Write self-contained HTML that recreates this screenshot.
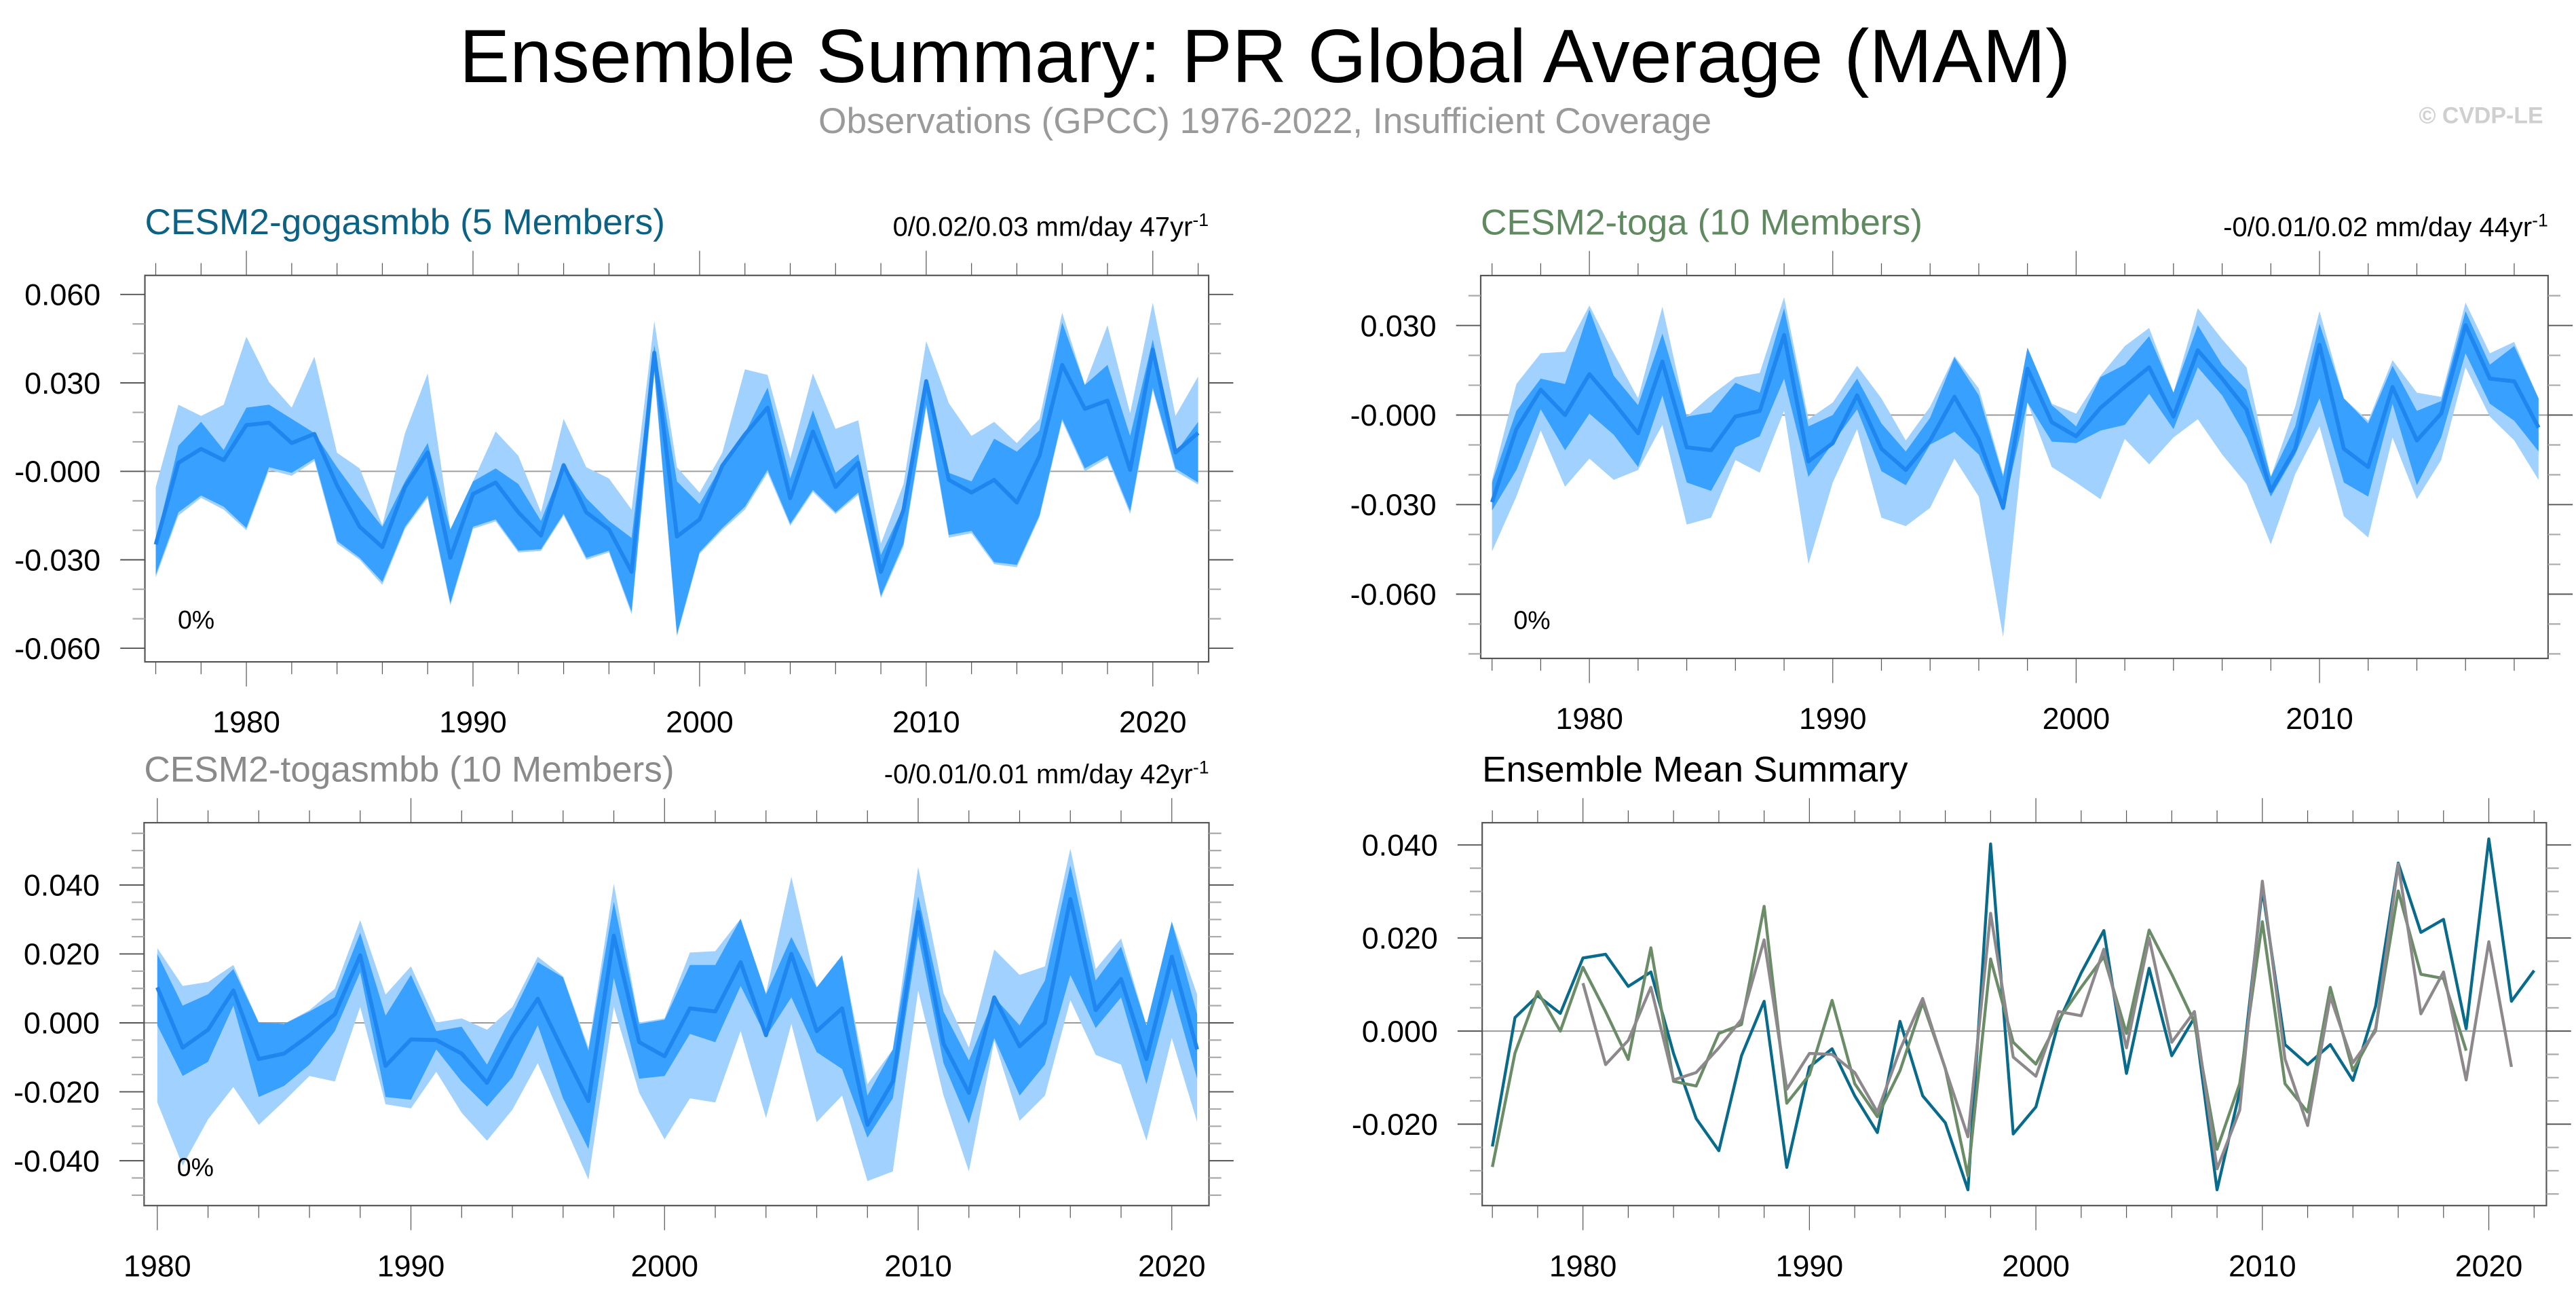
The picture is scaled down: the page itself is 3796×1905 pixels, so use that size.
<!DOCTYPE html>
<html><head><meta charset="utf-8"><style>
html,body{margin:0;padding:0;background:#fff;}
svg{display:block;font-family:"Liberation Sans",Arial,sans-serif;}
</style></head><body>
<svg id="chart" xmlns="http://www.w3.org/2000/svg" width="3796" height="1905" viewBox="0 0 1568 786.9" preserveAspectRatio="none">
<rect x="0" y="0" width="1568" height="786.9" fill="#fff"/>
<text x="770" y="50" font-size="46" text-anchor="middle" fill="#000">Ensemble Summary: PR Global Average (MAM)</text>
<text x="770" y="81" font-size="22" text-anchor="middle" fill="#9a9a9a">Observations (GPCC) 1976-2022, Insufficient Coverage</text>
<text x="1548" y="75" font-size="14" font-weight="bold" text-anchor="end" fill="#cfcfcf">© CVDP-LE</text>
<g id="plots"></g>
</svg>
<script>
// ---- data (values in units of 0.001 mm/day) ----
const years1 = [];
for (let y = 1976; y <= 2022; y++) years1.push(y);
const mean1 = [-24.8,2.9,7.6,3.8,15.7,16.5,9.6,12.7,-4.8,-18.8,-25.7,-5.3,6.4,-29.3,-7.7,-3.8,-13.9,-21.8,2.1,-13.9,-19.7,-34.1,40.2,-22.1,-16.3,1.9,12.5,21.6,-9.1,13.5,-5.3,2.9,-34.1,-13.0,30.6,-2.9,-7.2,-2.9,-10.6,5.3,36.1,21.2,24.0,0.5,41.3,6.4,13.0];
const darkUp1 = [-23.6,8.7,16.8,7.2,21.6,22.6,17.8,13.0,1.4,-9.1,-18.8,-3.4,9.6,-19.7,-3.4,1.0,-4.3,-16.8,2.4,-9.1,-16.8,-22.6,42.8,-3.4,-11.1,2.4,13.0,28.4,-2.4,20.7,-0.5,5.8,-28.4,-12.0,31.3,-0.5,-3.4,11.1,6.7,13.9,50.5,29.3,36.1,12.0,44.7,6.3,16.8];
const darkLo1 = [-35.1,-13.9,-8.2,-12.0,-19.2,1.4,-0.5,4.3,-23.6,-29.3,-37.5,-18.8,-8.2,-44.7,-18.8,-16.3,-26.9,-26.4,-14.4,-29.3,-26.9,-47.6,34.1,-55.3,-27.4,-19.2,-12.0,0.5,-17.8,-6.3,-13.9,-7.2,-42.3,-24.5,22.6,-21.6,-20.2,-30.8,-31.7,-14.9,17.8,1.0,5.3,-13.5,28.4,1.0,-3.8];
const lightUp1 = [-5.3,22.6,18.8,22.6,45.7,30.3,21.6,38.9,6.3,1.0,-18.3,13.0,33.2,-19.7,-3.4,13.5,5.3,-13.9,17.8,1.4,-2.4,-13.0,51.0,1.4,-7.2,6.3,34.6,32.7,4.3,33.2,14.4,17.3,-24.5,-4.3,44.2,23.1,12.0,16.8,9.6,17.8,53.8,29.3,49.5,19.7,57.2,18.8,32.2];
const lightLo1 = [-36.0,-15.0,-9.0,-13.0,-20.0,0.5,-1.5,3.5,-24.5,-30.0,-38.5,-19.5,-9.0,-45.5,-19.5,-17.0,-27.5,-27.0,-15.0,-30.0,-27.5,-48.5,33.0,-56.0,-28.0,-20.0,-13.0,-0.5,-18.5,-7.0,-14.5,-8.0,-43.0,-25.5,21.5,-22.5,-21.0,-31.5,-32.5,-15.5,17.0,0.0,4.5,-14.5,27.5,0.0,-4.5];

const years2 = [];
for (let y = 1976; y <= 2019; y++) years2.push(y);
const mean2 = [-29.2,-4.7,8.5,0,13.7,4.2,-6.1,17.9,-10.8,-11.8,-0.5,1.4,26.8,-15.5,-9.4,6.6,-11.3,-18.4,-8.5,6.1,-8.0,-31.1,15.5,-2.4,-7.1,2.4,9.4,16.0,-0.5,21.7,12.2,1.9,-25.4,-11.3,23.5,-11.3,-17.4,9.4,-8.5,0.5,30.1,12.2,11.3,-4.2];
const darkUp2 = [-22.6,1.4,12.2,10.4,35.3,13.2,3.3,27.3,-0.5,0.9,10.8,7.5,35.8,-3.8,0,12.2,-2.8,-12.2,-0.9,19.3,6.6,-20.7,22.6,3.3,-3.8,12.7,16.9,26.4,7.5,30.1,16.9,8.5,-20.7,-3.8,30.6,5.6,-2.8,16.5,1.4,4.7,34.8,16.9,23.1,5.6];
const darkLo2 = [-32.0,-18.4,1.9,-11.8,0.5,-6.6,-17.4,6.6,-22.6,-25.4,-10.8,-7.1,12.2,-20.7,-9.4,1.9,-18.8,-23.5,-9.9,-5.6,-13.2,-32.0,4.2,-8.9,-9.4,-5.2,-3.3,7.1,-4.7,16.0,6.6,-7.5,-27.3,-13.2,5.6,-22.6,-27.3,3.8,-23.5,-7.5,20.7,3.8,-1.9,-12.2];
const lightUp2 = [-21.7,10.4,20.7,21.2,36.7,20.7,5.6,36.3,-0.5,6.6,12.7,14.1,39.5,-1.4,4.2,16.5,5.6,-8.5,2.8,19.8,8.9,-19.8,22.6,3.8,0.5,13.2,23.1,29.2,7.5,35.8,25.4,16.0,-20.7,2.8,34.8,5.6,-1.9,18.4,7.5,6.1,37.7,20.7,24.5,5.6];
const lightLo2 = [-45.7,-27.3,-5.2,-24.0,-14.6,-21.7,-18.4,-3.3,-36.7,-34.4,-15.1,-19.3,1.4,-49.9,-22.6,-4.7,-34.4,-37.2,-31.1,-14.6,-27.3,-74.4,4.2,-17.4,-22.6,-28.2,-8.0,-16.5,-7.5,-1.4,-13.2,-23.1,-43.3,-19.8,-3.8,-33.9,-41.0,-7.5,-28.2,-15.1,16.0,-0.5,-8.5,-21.7];

const years3 = [];
for (let y = 1980; y <= 2021; y++) years3.push(y);
const mean3 = [10.3,-7.2,-2.0,9.4,-10.5,-8.9,-3.6,2.5,19.6,-12.5,-4.8,-5.0,-8.9,-17.4,-4.0,7.0,-8.1,-22.7,25.3,-5.6,-9.7,4.2,3.3,17.6,-3.6,20.0,-2.4,4.2,-29.6,-17.0,32.2,-6.0,-20.3,7.4,-6.8,0,35.9,3.7,12.7,-10.5,19.2,-7.7];
const darkUp3 = [20.0,5.0,8.3,15.6,0.1,-0.3,3.3,7.4,26.1,2.1,13.9,-2.4,-1.1,-12.1,2.5,17.6,13.2,-8.1,35.1,-0.3,0.9,16.8,16.8,30.2,8.3,24.9,10.3,19.6,-21.1,-7.7,36.7,3.3,-10.9,7.4,-0.7,12.3,45.7,12.3,22.1,-0.7,29.4,2.5];
const darkLo3 = [-0.7,-15.4,-11.3,5.0,-21.5,-18.3,-12.1,-2.4,14.7,-21.5,-22.3,-7.7,-17.0,-24.3,-15.8,-0.7,-21.9,-36.6,13.1,-16.2,-15.4,-3.2,-5.6,10.7,-4.0,7.4,-8.5,-13.4,-33.3,-21.9,25.3,-11.7,-29.2,-4.4,-21.1,-12.1,13.9,-1.5,7.4,-17.8,9.9,-16.2];
const lightUp3 = [21.7,10.7,11.9,16.8,0.1,-0.3,3.7,9.9,29.8,8.2,16.4,0.1,1.3,-2.0,4.6,19.2,13.5,-7.2,40.4,0.1,1.3,20.4,20.8,30.2,8.6,42.4,10.3,19.6,-17.8,-7.7,45.3,8.6,-7.2,21.3,13.9,16.4,50.6,15.6,24.5,-0.7,29.4,8.2];
const lightLo3 = [-23.1,-41.4,-28.0,-18.6,-29.6,-22.7,-15.4,-17.0,4.6,-23.6,-24.8,-14.2,-26.1,-34.2,-25.2,-11.7,-28.8,-45.5,4.6,-20.3,-33.8,-21.9,-23.1,-2.4,-27.6,-0.3,-28.8,-21.1,-45.9,-43.1,9.4,-21.1,-43.1,-5.2,-28.4,-21.1,6.6,-9.3,-12.1,-34.2,-4.4,-28.8];

const yTicks1 = [0.06,0.03,0,-0.03,-0.06];
const yLabels1 = ["0.060","0.030","-0.000","-0.030","-0.060"];
const yTicks2 = [0.03,0,-0.03,-0.06];
const yLabels2 = ["0.030","-0.000","-0.030","-0.060"];
const yTicks3 = [0.04,0.02,0,-0.02,-0.04];
const yLabels3 = ["0.040","0.020","0.000","-0.020","-0.040"];
const yTicks4 = [0.04,0.02,0,-0.02];
const yLabels4 = ["0.040","0.020","0.000","-0.020"];
const xTicks1 = [1980,1990,2000,2010,2020];
const xTicks2 = [1980,1990,2000,2010];

const NS = "http://www.w3.org/2000/svg";
const root = document.getElementById('plots');
function mk(tag, attrs, parent) {
  const e = document.createElementNS(NS, tag);
  for (const k in attrs) e.setAttribute(k, attrs[k]);
  (parent || root).appendChild(e);
  return e;
}
function scale(d0, d1, r0, r1) { return v => r0 + (v - d0) * (r1 - r0) / (d1 - d0); }

function panel(cfg) {
  const g = mk('g', {});
  
  
  const [L, T, R, B] = cfg.box;
  const xs = scale(cfg.xr[0], cfg.xr[1], cfg.xp[0], cfg.xp[1]);
  const ys = scale(cfg.yr[0], cfg.yr[1], cfg.yp[0], cfg.yp[1]);
  mk('rect', {x: L, y: T, width: R - L, height: B - T, fill: '#fff'}, g);
  const clipId = 'clip-' + cfg.name;
  const cp = mk('clipPath', {id: clipId}, g);
  mk('rect', {x: L, y: T, width: R - L, height: B - T}, cp);
  const pg = mk('g', {'clip-path': 'url(#' + clipId + ')'}, g);
  const z = mk('line', {x1: L, x2: R, y1: ys(0), y2: ys(0), stroke: '#9a9a9a', 'stroke-width': 0.8}, pg);
  
  
  function band(up, lo, yrs, fill, nm) {
    let d = '';
    yrs.forEach((yr, i) => { d += (i ? 'L' : 'M') + xs(yr).toFixed(2) + ',' + ys(up[i] / 1000).toFixed(2); });
    for (let i = yrs.length - 1; i >= 0; i--) d += 'L' + xs(yrs[i]).toFixed(2) + ',' + ys(lo[i] / 1000).toFixed(2);
    const p = mk('path', {d: d + 'Z', fill: fill, stroke: 'none'}, pg);
    
    
  }
  function line(vals, yrs, col, w, nm) {
    let d = '';
    yrs.forEach((yr, i) => { d += (i ? 'L' : 'M') + xs(yr).toFixed(2) + ',' + ys(vals[i] / 1000).toFixed(2); });
    const p = mk('path', {d: d, fill: 'none', stroke: col, 'stroke-width': w, 'stroke-linejoin': 'round'}, pg);
    
    
  }
  if (cfg.bands) {
    const b = cfg.bands;
    band(b.lu, b.ll, b.years, '#a1d1ff', 'min-max-band');
    band(b.du, b.dl, b.years, '#38a0ff', 'interquartile-band');
    line(b.mean, b.years, '#1e86ee', 2.4, 'ensemble-mean-line');
  }
  if (cfg.lines) cfg.lines.forEach(l => line(l.vals, l.years, l.col, 1.8, l.name));
  const fr = mk('rect', {x: L, y: T, width: R - L, height: B - T, fill: 'none', stroke: '#555', 'stroke-width': 0.9}, g);
  
  
  for (let yr = cfg.xr[0]; yr <= cfg.xr[1]; yr++) {
    if (yr % 2 !== 0) continue;
    const x = xs(yr);
    if (x < L || x > R) continue;
    const len = yr % 10 === 0 ? 15 : 7.5;
    mk('line', {x1: x, x2: x, y1: B, y2: B + len, stroke: '#555', 'stroke-width': 0.5}, g);
    mk('line', {x1: x, x2: x, y1: T, y2: T - len, stroke: '#555', 'stroke-width': 0.5}, g);
  }
  cfg.xTicks.forEach(yr => {
    const t = mk('text', {x: xs(yr), y: B + 43, 'font-size': 18.5, 'text-anchor': 'middle', fill: '#000'}, g);
    t.textContent = yr;
    
    
  });
  const lo = Math.min(cfg.yr[0], cfg.yr[1]) - 0.2, hi = Math.max(cfg.yr[0], cfg.yr[1]) + 0.2;
  for (let k = Math.ceil(lo / cfg.minor); k * cfg.minor <= hi; k++) {
    const v = k * cfg.minor, y = ys(v);
    if (y < T - 0.5 || y > B + 0.5) continue;
    const major = Math.abs(Math.round(v / cfg.major) * cfg.major - v) < 1e-9;
    const len = major ? 15 : 7.5;
    const col = major ? '#555' : '#aaa';
    mk('line', {x1: L - len, x2: L, y1: y, y2: y, stroke: col, 'stroke-width': major ? 0.8 : 0.9}, g);
    mk('line', {x1: R, x2: R + len, y1: y, y2: y, stroke: col, 'stroke-width': major ? 0.8 : 0.9}, g);
  }
  cfg.yTicks.forEach((v, i) => {
    const t = mk('text', {x: L - 27, y: ys(v) + 6.5, 'font-size': 18.5, 'text-anchor': 'end', fill: '#000'}, g);
    t.textContent = cfg.yLabels[i];
    
    
  });
  const tt = mk('text', {x: L, y: T - 25, 'font-size': 22, fill: cfg.titleColor}, g);
  tt.textContent = cfg.title;
  
  
  if (cfg.trend) {
    const tr = mk('text', {x: R, y: T - 24, 'font-size': 16.5, 'text-anchor': 'end', fill: '#000'}, g);
    
    
    const s1 = mk('tspan', {}, tr); s1.textContent = cfg.trend;
    const s2 = mk('tspan', {dy: -6, 'font-size': 11}, tr); s2.textContent = '-1';
  }
  if (cfg.pct) {
    const p = mk('text', {x: L + 20, y: T + 215, 'font-size': 15.5, fill: '#000'}, g);
    p.textContent = '0%';
    
    
  }
}

panel({name: 'panel-cesm2-gogasmbb', box: [88.2, 167.6, 735.7, 402.8], xr: [1976, 2022], xp: [94.8, 729.3],
  yr: [0.06, -0.06], yp: [179.2, 394.5], major: 0.03, minor: 0.01, yTicks: yTicks1, yLabels: yLabels1, xTicks: xTicks1,
  title: 'CESM2-gogasmbb (5 Members)', titleColor: '#0b6284', trend: '0/0.02/0.03 mm/day 47yr', pct: true,
  bands: {years: years1, mean: mean1, du: darkUp1, dl: darkLo1, lu: lightUp1, ll: lightLo1}});
panel({name: 'panel-cesm2-toga', box: [901.3, 167.7, 1551, 400.7], xr: [1976, 2019], xp: [908.2, 1545.2],
  yr: [0.03, 0], yp: [198.1, 252.6], major: 0.03, minor: 0.01, yTicks: yTicks2, yLabels: yLabels2, xTicks: xTicks2,
  title: 'CESM2-toga (10 Members)', titleColor: '#5f8a60', trend: '-0/0.01/0.02 mm/day 44yr', pct: true,
  bands: {years: years2, mean: mean2, du: darkUp2, dl: darkLo2, lu: lightUp2, ll: lightLo2}});
panel({name: 'panel-cesm2-togasmbb', box: [87.7, 500.7, 735.9, 733.7], xr: [1980, 2021], xp: [95.75, 728.7],
  yr: [0.04, 0], yp: [538.6, 622.5], major: 0.02, minor: 0.005, yTicks: yTicks3, yLabels: yLabels3, xTicks: xTicks1,
  title: 'CESM2-togasmbb (10 Members)', titleColor: '#8a8a8a', trend: '-0/0.01/0.01 mm/day 42yr', pct: true,
  bands: {years: years3, mean: mean3, du: darkUp3, dl: darkLo3, lu: lightUp3, ll: lightLo3}});
panel({name: 'panel-ensemble-mean-summary', box: [902.2, 500.7, 1550, 733.7], xr: [1976, 2022], xp: [908.4, 1542.5],
  yr: [0.04, 0], yp: [514.2, 627.5], major: 0.02, minor: 0.005, yTicks: yTicks4, yLabels: yLabels4, xTicks: xTicks1,
  title: 'Ensemble Mean Summary', titleColor: '#000', trend: null, pct: false,
  lines: [
    {vals: mean1, years: years1, col: '#096b8c', name: 'gogasmbb-mean-line'},
    {vals: mean2, years: years2, col: '#6a8c66', name: 'toga-mean-line'},
    {vals: mean3, years: years3, col: '#8c888c', name: 'togasmbb-mean-line'}
  ]});
</script>
</body></html>
